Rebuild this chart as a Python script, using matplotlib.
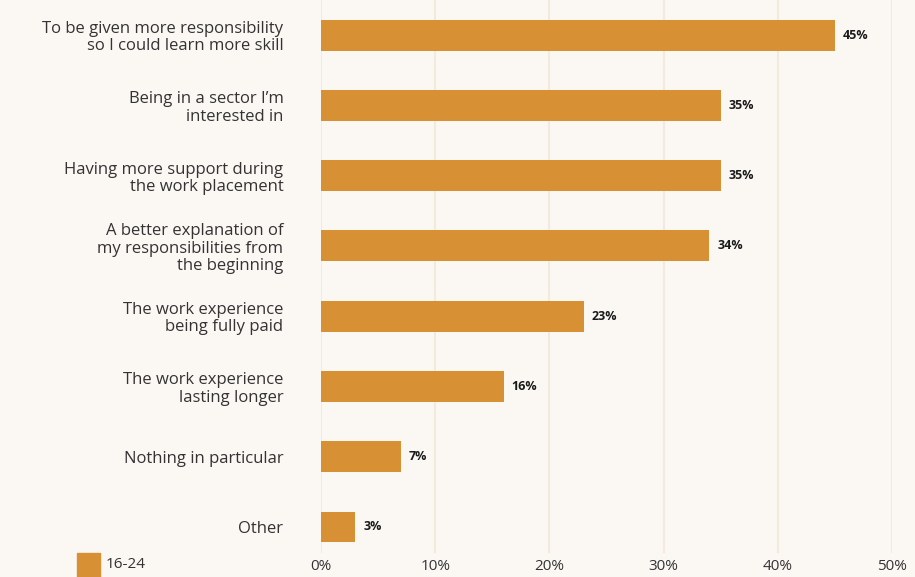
import matplotlib
matplotlib.use("Agg")
import matplotlib.pyplot as plt
from matplotlib.patches import Rectangle

# survey answers, 16-24 age group
labels = [
    "To be given more responsibility\nso I could learn more skill",
    "Being in a sector I\u2019m\ninterested in",
    "Having more support during\nthe work placement",
    "A better explanation of\nmy responsibilities from\nthe beginning",
    "The work experience\nbeing fully paid",
    "The work experience\nlasting longer",
    "Nothing in particular",
    "Other",
]
values = [45, 35, 35, 34, 23, 16, 7, 3]
series_name = "16-24"
ticks = [0, 10, 20, 30, 40, 50]

bg = "#FBF8F4"
bar_col = "#D89035"
grid_col = "#F4E9DD"
text_col = "#333333"

plt.rcParams["font.family"] = ["Open Sans", "DejaVu Sans"]

fig = plt.figure(figsize=(9.15, 5.77), dpi=100, facecolor=bg)
ax = fig.add_axes([0.3508, 0.0416, 0.6241, 0.9584], facecolor=bg)

y = list(range(len(values)))
ax.barh(y, values, height=0.44, color=bar_col, zorder=2)
for yi, v in zip(y, values):
    ax.text(v + 0.7, yi, f"{v}%", va="center", ha="left", fontsize=9,
            fontweight="bold", color="#1a1a1a", zorder=3)

ax.set_xlim(0, 50)
ax.set_ylim(7.37, -0.5)
ax.set_xticks(ticks)
ax.set_xticklabels([f"{t}%" for t in ticks], fontsize=11, color=text_col)
ax.set_yticks(y)
ax.set_yticklabels(labels, fontsize=12, color=text_col, linespacing=1.1)
ax.tick_params(axis="both", length=0)
ax.tick_params(axis="y", pad=27)
ax.tick_params(axis="x", pad=4)
ax.grid(axis="x", color=grid_col, linewidth=1.5, zorder=0)
for s in ax.spines.values():
    s.set_visible(False)

# legend swatch in the bottom-left corner
fig.patches.append(Rectangle((77 / 915, 0), 23 / 915, 24 / 577,
                             transform=fig.transFigure, color=bar_col))
fig.text(106 / 915, 12 / 577, series_name, fontsize=11, color=text_col,
         va="center", ha="left")

fig.savefig("out.png", dpi=100, facecolor=bg)
